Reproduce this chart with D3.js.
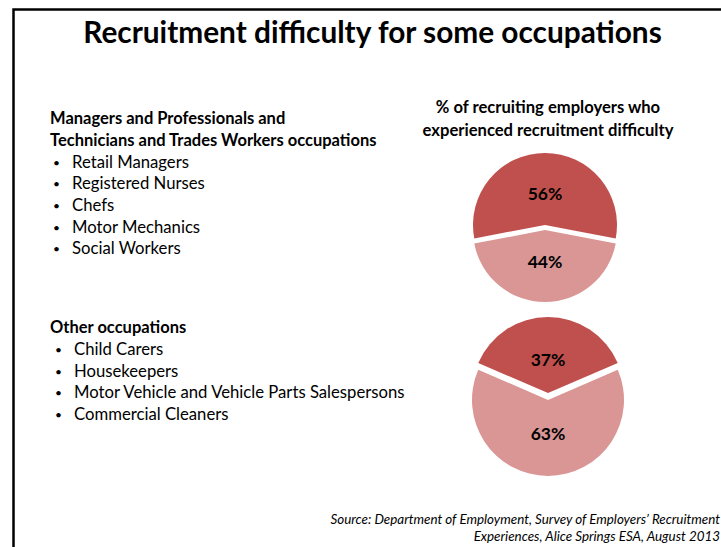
<!DOCTYPE html>
<html>
<head>
<meta charset="utf-8">
<script src="https://cdn.jsdelivr.net/npm/d3@7"></script>
<style>
  html, body { margin: 0; padding: 0; background: #fff; }
  svg { display: block; font-family: Lato, "Open Sans", sans-serif; }
</style>
</head>
<body>
<svg id="chart" width="721" height="547"></svg>
<script>
// Chart data
var title = "Recruitment difficulty for some occupations";
var pieTitle = ["% of recruiting employers who", "experienced recruitment difficulty"];
var groupHeadings = [
  ["Managers and Professionals and", "Technicians and Trades Workers occupations"],
  ["Other occupations"]
];
var groupOccupations = [
  ["Retail Managers", "Registered Nurses", "Chefs", "Motor Mechanics", "Social Workers"],
  ["Child Carers", "Housekeepers", "Motor Vehicle and Vehicle Parts Salespersons", "Commercial Cleaners"]
];
var sliceLabels = ["Experienced difficulty", "No difficulty"];
var groupShares = [
  [56, 44],
  [37, 63]
];
var sourceLines = [
  "Source: Department of Employment, Survey of Employers\u2019 Recruitment",
  "Experiences, Alice Springs ESA, August 2013"
];

var svg = d3.select("#chart");

// Slide frame (left and top edges only visible)
svg.append("path")
    .attr("d", "M13.5,547 V9.5 H721")
    .attr("fill", "none")
    .attr("stroke", "#000")
    .attr("stroke-width", 2.5);

svg.append("text")
    .attr("x", 372.5)
    .attr("y", 43)
    .attr("text-anchor", "middle")
    .style("font-weight", "bold")
    .style("font-size", "29.8px")
    .text(title);

// Occupation lists
var listLayout = [
  {x: 50, y: 123.5, bulletX: 53, textX: 72},
  {x: 50, y: 333, bulletX: 55, textX: 74}
];

groupHeadings.forEach(function(lines, gi) {
  var lay = listLayout[gi];
  var g = svg.append("g");
  lines.forEach(function(line, i) {
    g.append("text")
        .attr("x", lay.x)
        .attr("y", lay.y + i * 22)
        .style("font-weight", "bold")
        .style("font-size", "16.5px")
        .text(line);
  });
  var y0 = lay.y + lines.length * 22;
  groupOccupations[gi].forEach(function(occ, i) {
    var y = y0 + i * 21.7;
    g.append("text")
        .attr("x", lay.bulletX)
        .attr("y", y - 1)
        .style("font-size", "12px")
        .text("\u2022");
    g.append("text")
        .attr("x", lay.textX)
        .attr("y", y)
        .style("font-size", "16.7px")
        .text(occ);
  });
});

// Pie title
pieTitle.forEach(function(line, i) {
  svg.append("text")
      .attr("x", 548)
      .attr("y", 113 + i * 22.5)
      .attr("text-anchor", "middle")
      .style("font-weight", "bold")
      .style("font-size", "16.6px")
      .text(line);
});

// Pies
var pieLayout = [
  {cx: 545, cy: 227.5, r: 72, offset: 2.6},
  {cx: 548, cy: 396.5, r: 76, offset: 3.4}
];
var color = d3.scaleOrdinal().domain(sliceLabels).range(["#C0504D", "#D99694"]);

groupShares.forEach(function(values, gi) {
  var lay = pieLayout[gi];
  var total = d3.sum(values);
  var start = -values[0] / total * Math.PI;
  var pie = d3.pie().sort(null).value(function(d) { return d.value; })
      .startAngle(start).endAngle(start + 2 * Math.PI);
  var arcs = pie(values.map(function(v, i) { return {key: sliceLabels[i], value: v}; }));

  var arc = d3.arc().innerRadius(0).outerRadius(lay.r);
  var labelArc = d3.arc().innerRadius(lay.r * 0.44).outerRadius(lay.r * 0.44);

  var g = svg.append("g").attr("transform", "translate(" + lay.cx + "," + lay.cy + ")");

  var slice = g.selectAll(".slice")
    .data(arcs)
    .enter().append("g")
      .attr("class", "slice")
      .attr("transform", function(d) {
        var mid = (d.startAngle + d.endAngle) / 2;
        return "translate(" + (Math.sin(mid) * lay.offset) + "," + (-Math.cos(mid) * lay.offset) + ")";
      });

  slice.append("path")
      .attr("d", arc)
      .attr("fill", function(d) { return color(d.data.key); });

  slice.append("text")
      .attr("transform", function(d) { return "translate(" + labelArc.centroid(d) + ")"; })
      .attr("text-anchor", "middle")
      .attr("dy", "0.36em")
      .style("font-weight", "bold")
      .style("font-size", "17.5px")
      .text(function(d) { return d.data.value + "%"; });
});

// Source note
sourceLines.forEach(function(line, i) {
  svg.append("text")
      .attr("x", 720)
      .attr("y", 524 + i * 16.5)
      .attr("text-anchor", "end")
      .style("font-style", "italic")
      .style("font-size", "13.4px")
      .text(line);
});
</script>
</body>
</html>
